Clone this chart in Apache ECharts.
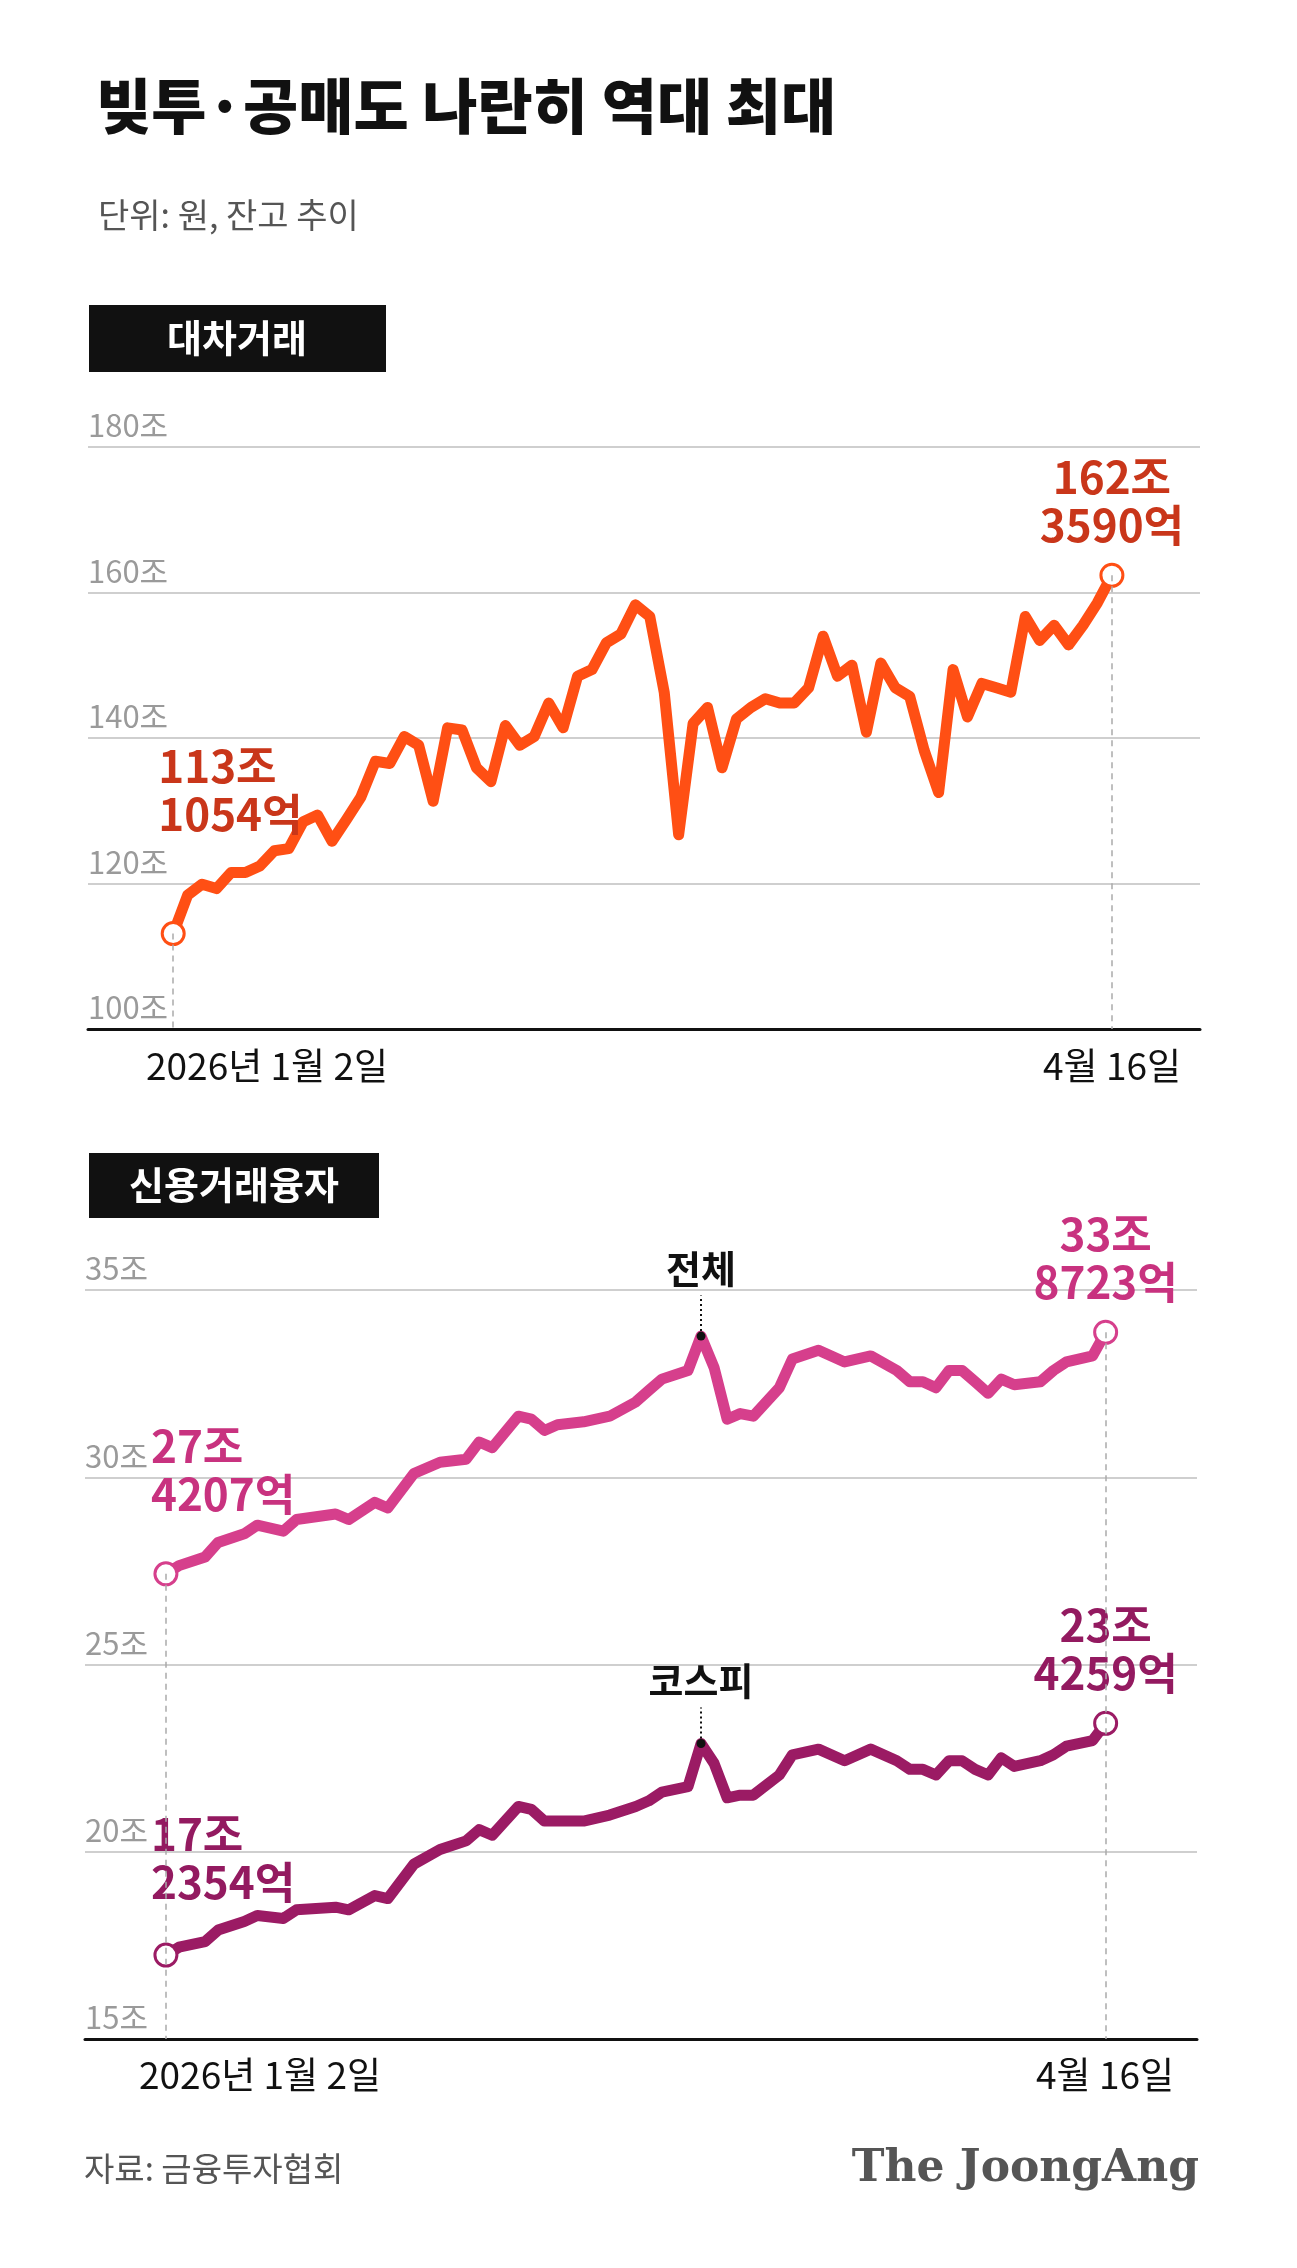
<!DOCTYPE html>
<html><head><meta charset="utf-8">
<script src="https://cdn.jsdelivr.net/npm/echarts@6/dist/echarts.min.js"></script>
<style>html,body{margin:0;padding:0;background:#fff}#c{width:1297px;height:2268px}</style>
</head><body><div id="c"></div>
<script>
const F = '"Noto Sans CJK KR","Noto Sans",sans-serif';
// 대차거래 (조원), trading-day samples Jan 2 → Apr 16
const lendVals = [113.11,118.4,119.9,119.3,121.5,121.5,122.4,124.5,124.8,128.5,129.4,125.8,128.8,131.9,136.8,136.5,140.2,139,131.3,141.4,141.1,135.9,134,141.7,139,140.2,144.8,141.4,148.5,149.4,153.1,154.3,158.3,156.7,146.3,126.7,142,144.2,135.9,142.6,144.2,145.4,144.8,144.8,146.9,154,148.5,150,140.8,150.3,146.9,145.7,138.3,132.5,149.4,142.9,147.5,146.9,146.3,156.7,153.4,155.5,152.8,155.5,158.6,162.36];
// 신용거래융자 (조원)
const creditDays = [0,1,3,4,6,7,9,10,13,14,16,17,19,21,23,24,25,27,28,29,30,32,34,36,37,38,40,41,42,43,44,45,47,48,50,52,54,56,57,58,59,60,61,62,63,64,65,67,68,69,71,72];
const totalVals = [27.42,27.64,27.87,28.26,28.49,28.72,28.56,28.87,29.02,28.87,29.33,29.18,30.1,30.4,30.48,30.94,30.79,31.63,31.55,31.25,31.4,31.48,31.63,32.01,32.32,32.62,32.85,33.77,32.93,31.55,31.7,31.63,32.39,33.16,33.39,33.08,33.24,32.85,32.55,32.55,32.39,32.85,32.85,32.55,32.24,32.62,32.47,32.55,32.85,33.08,33.24,33.87];
const kospiVals = [17.24,17.45,17.6,17.91,18.14,18.3,18.22,18.45,18.52,18.45,18.83,18.75,19.67,20.06,20.29,20.59,20.44,21.21,21.13,20.82,20.82,20.82,20.98,21.21,21.36,21.59,21.74,22.89,22.36,21.44,21.51,21.51,22.05,22.59,22.74,22.43,22.74,22.43,22.2,22.2,22.05,22.43,22.43,22.2,22.05,22.51,22.28,22.43,22.59,22.82,22.97,23.43];
const lendTicks = [100,120,140,160,180];
const creditTicks = [15,20,25,30,35];

const chart = echarts.init(document.getElementById('c'));
const endSym = c => ({symbol:'circle',symbolSize:22,itemStyle:{color:'#fff',borderColor:c,borderWidth:3}});
function mkData(xs, ys, color, lblColor, startLbl, endLbl, startOff){
  const n = ys.length;
  const base = {color:lblColor,fontSize:44,fontWeight:'bold',lineHeight:48,fontFamily:F};
  return ys.map((v,i)=>{
    if(i===0) return Object.assign({value:[xs[i],v],label:Object.assign({show:true,formatter:startLbl,position:'top',offset:startOff,align:'left'},base)},endSym(color));
    if(i===n-1) return Object.assign({value:[xs[i],v],label:Object.assign({show:true,formatter:endLbl,position:'top',distance:14},base)},endSym(color));
    return {value:[xs[i],v],symbol:'none'};
  });
}
const dash = (x,y,base)=>[[{coord:[x,y],symbol:'none'},{coord:[x,base],symbol:'none'}]];
const yAx = (idx,min,max,iv)=>({gridIndex:idx,type:'value',min,max,interval:iv,
  axisLine:{show:false},axisTick:{show:false},
  splitLine:{lineStyle:{color:'#cfcfcf',width:2}},
  axisLabel:{inside:true,margin:0,verticalAlign:'bottom',padding:[0,0,6,0],color:'#9a9a9a',fontSize:31,fontFamily:F,formatter:v=>v+'조'}});
const xAx = (idx,min,max)=>({gridIndex:idx,type:'value',min,max,axisLine:{onZero:false,lineStyle:{color:'#111',width:3}},axisTick:{show:false},axisLabel:{show:false},splitLine:{show:false}});
const lendX = lendVals.map((_,i)=>i);
const lendColor='#ff4f14', lendLbl='#c9361a', totC='#d63f8c', totL='#c8327f', kosC='#9b1b64', kosL='#931a60';

chart.setOption({
  animation:false,
  textStyle:{fontFamily:F},
  grid:[{left:88,right:97,top:447,height:582},{left:85,right:100,top:1290,height:749}],
  xAxis:[xAx(0,-5.9,71.1),xAx(1,-6.2,79)],
  yAxis:[yAx(0,100,180,20),yAx(1,15,35,5)],
  series:[
    {type:'line',xAxisIndex:0,yAxisIndex:0,data:mkData(lendX,lendVals,lendColor,lendLbl,'113조\n1054억','162조\n3590억',[-15,-78]),
     lineStyle:{color:lendColor,width:11,join:'round'},itemStyle:{color:lendColor},z:3,
     markLine:{silent:true,symbol:'none',label:{show:false},lineStyle:{type:[6,5],color:'#aaa',width:1.5},data:dash(0,113.11,100).concat(dash(65,162.36,100))}},
    {type:'line',xAxisIndex:1,yAxisIndex:1,data:mkData(creditDays,totalVals,totC,totL,'27조\n4207억','33조\n8723억',[-15,-38]),
     lineStyle:{color:totC,width:11,join:'round'},itemStyle:{color:totC},z:3,
     markLine:{silent:true,symbol:'none',lineStyle:{type:[6,5],color:'#aaa',width:1.5},label:{show:false},
       data:dash(0,27.42,15).concat(dash(72,33.87,15)).concat([[{coord:[41,33.77],symbol:'none',lineStyle:{type:[2,3],color:'#111',width:2}},{coord:[41,34.85],symbol:'none',label:{show:true,position:'end',formatter:'전체',color:'#111',fontSize:38,fontWeight:'bold',fontFamily:F,distance:8}}]])},
     markPoint:{symbol:'circle',symbolSize:9,itemStyle:{color:'#111'},label:{show:false},data:[{coord:[41,33.77]}]}},
    {type:'line',xAxisIndex:1,yAxisIndex:1,data:mkData(creditDays,kospiVals,kosC,kosL,'17조\n2354억','23조\n4259억',[-15,-31]),
     lineStyle:{color:kosC,width:11,join:'round'},itemStyle:{color:kosC},z:3,
     markLine:{silent:true,symbol:'none',label:{show:false},lineStyle:{type:[2,3],color:'#111',width:2},
       data:[[{coord:[41,22.89],symbol:'none'},{coord:[41,23.85],symbol:'none',label:{show:true,position:'end',formatter:'코스피',color:'#111',fontSize:38,fontWeight:'bold',fontFamily:F,distance:8}}]]},
     markPoint:{symbol:'circle',symbolSize:9,itemStyle:{color:'#111'},label:{show:false},data:[{coord:[41,22.89]}]}}
  ],
  graphic:[
    {type:'text',left:96,top:76,style:{text:'빚투·공매도 나란히 역대 최대',font:'900 60px '+F,fill:'#111'}},
    {type:'text',left:98,top:198,style:{text:'단위: 원, 잔고 추이',font:'34px '+F,fill:'#555'}},
    {type:'rect',shape:{x:89,y:305,width:297,height:67},style:{fill:'#111'}},
    {type:'text',x:237,y:338,style:{text:'대차거래',font:'bold 38px '+F,fill:'#fff',align:'center',verticalAlign:'middle'}},
    {type:'text',x:267,y:1066,style:{text:'2026년 1월 2일',font:'37px '+F,fill:'#111',align:'center',verticalAlign:'middle'}},
    {type:'text',x:1112,y:1066,style:{text:'4월 16일',font:'37px '+F,fill:'#111',align:'center',verticalAlign:'middle'}},
    {type:'rect',shape:{x:89,y:1153,width:290,height:65},style:{fill:'#111'}},
    {type:'text',x:234,y:1185,style:{text:'신용거래융자',font:'bold 38px '+F,fill:'#fff',align:'center',verticalAlign:'middle'}},
    {type:'text',x:260,y:2075,style:{text:'2026년 1월 2일',font:'37px '+F,fill:'#111',align:'center',verticalAlign:'middle'}},
    {type:'text',x:1105,y:2075,style:{text:'4월 16일',font:'37px '+F,fill:'#111',align:'center',verticalAlign:'middle'}},
    {type:'text',left:84,top:2152,style:{text:'자료: 금융투자협회',font:'33px '+F,fill:'#555'}},
    {type:'text',right:98,top:2148,style:{text:'The JoongAng',font:'bold 44px "DejaVu Serif","Liberation Serif",serif',fill:'#555'}}
  ]
});
</script></body></html>
